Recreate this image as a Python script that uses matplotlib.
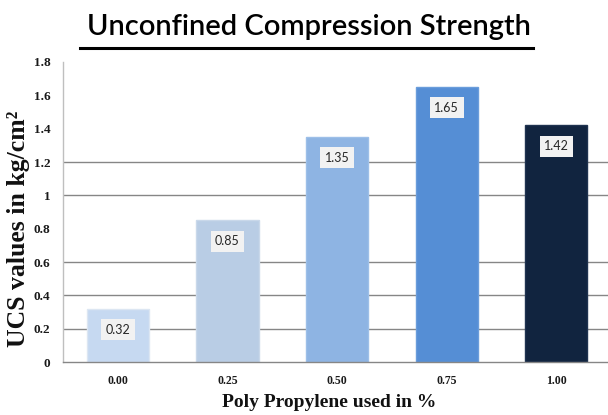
import matplotlib
matplotlib.use("Agg")
import matplotlib.pyplot as plt
from matplotlib.lines import Line2D

# Data
categories = ["0.00", "0.25", "0.50", "0.75", "1.00"]
ucs_values = [0.32, 0.85, 1.35, 1.65, 1.42]
bar_colors = ["#C6D9F1", "#B9CDE5", "#8EB4E3", "#558ED5", "#11243F"]
edge_colors = ["#DCE6F2", "#C9D8EA", "#9DBFE8", "#6A9DDB", "#1F3350"]
y_ticks = [0, 0.2, 0.4, 0.6, 0.8, 1.0, 1.2, 1.4, 1.6, 1.8]
y_tick_labels = ["0", "0.2", "0.4", "0.6", "0.8", "1", "1.2", "1.4", "1.6", "1.8"]
grid_values = [0.2, 0.4, 0.6, 1.0, 1.2]

W, H = 608, 415
fig = plt.figure(figsize=(W / 100, H / 100), dpi=100)
ax = fig.add_axes([63 / W, 1 - 362 / H, (W - 63) / W, 300 / H])

x = list(range(len(categories)))

for g in grid_values:
    ax.axhline(g, color="#868686", linewidth=1.0, zorder=1)

ax.bar(x, ucs_values, width=0.566, color=bar_colors, edgecolor=edge_colors,
       linewidth=1.0, zorder=2)

for xi, v in zip(x, ucs_values):
    ax.annotate(f"{v:.2f}", xy=(xi, v), xytext=(0, -15), textcoords="offset points",
                ha="center", va="center", fontsize=9, family="Lato", color="#262626",
                bbox=dict(boxstyle="square,pad=0.35", facecolor="#F2F2F2", edgecolor="none"),
                zorder=3)

ax.set_xlim(-0.5, 4.47)
ax.set_ylim(0, 1.8)

ax.set_yticks(y_ticks)
ax.set_yticklabels(y_tick_labels, family="Liberation Serif", fontweight="bold",
                   fontsize=9.5, color="#1a1a1a")
ax.set_xticks(x)
ax.set_xticklabels(categories, family="Liberation Serif", fontweight="bold",
                   fontsize=8.5, color="#1a1a1a")
ax.tick_params(axis="y", length=0, pad=9)
ax.tick_params(axis="x", length=0, pad=9)

for side in ["top", "right"]:
    ax.spines[side].set_visible(False)
ax.spines["left"].set_color("#BFBFBF")
ax.spines["bottom"].set_color("#868686")
ax.spines["left"].set_linewidth(1.0)
ax.spines["bottom"].set_linewidth(1.0)

fig.text(19 / W, 1 - 229 / H, "UCS values in kg/cm²", rotation=90, ha="center",
         va="center", family="Liberation Serif", fontweight="bold", fontsize=18.5,
         color="#111111")
fig.text(329 / W, 1 - 402 / H, "Poly Propylene used in %", ha="center", va="center",
         family="Liberation Serif", fontweight="bold", fontsize=14, color="#111111")

fig.text(309 / W, 1 - 27 / H, "Unconfined Compression Strength", ha="center",
         va="center", family="Lato", fontweight="semibold", fontsize=21, color="#000000")

# underline beneath the title
uy = 1 - 48 / H
fig.add_artist(Line2D([80 / W, 533 / W], [uy, uy], transform=fig.transFigure,
                      color="#000000", linewidth=2.2))

fig.savefig("out.png", dpi=100)
